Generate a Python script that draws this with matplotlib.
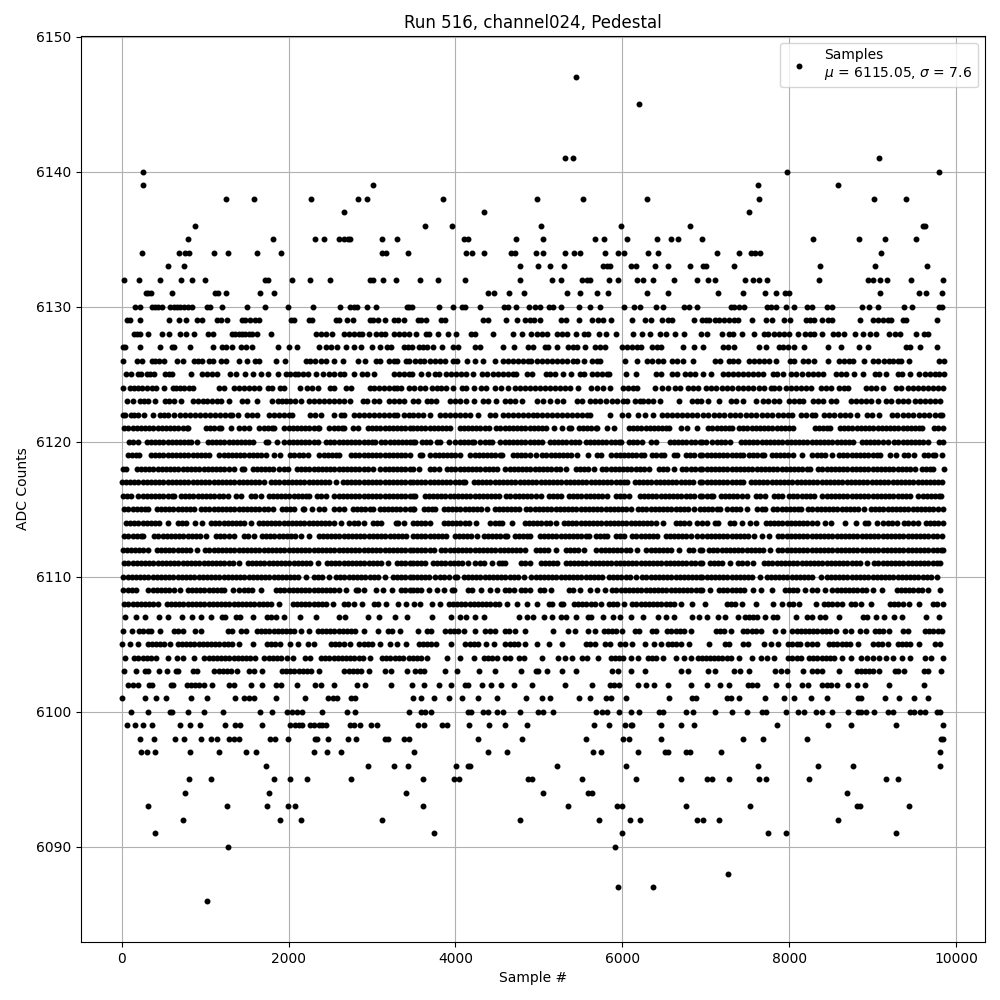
# Pedestal samples of one ADC channel.
import matplotlib
matplotlib.use("Agg")
import matplotlib.pyplot as plt

# Sample numbers at each ADC level.
s_6147 = [5448]
s_6145 = [6204]
s_6141 = [5316, 5412, 9076]
s_6140 = [252, 7972, 9796]
s_6139 = [252, 3012, 7624, 8584]
s_6138 = [1248, 1584, 2268, 2832, 2940, 3852, 4980, 5532, 6300, 7636, 9016, 9400]
s_6137 = [2664, 4344, 7516]
s_6136 = [876, 3636, 3960, 5028, 5988, 6816, 9604, 9628]
s_6135 = [792, 1812, 2316, 2424, 2604, 2664, 2712, 2736, 3120, 3300, 4104, 4152, 4728, 5052, 5676, 5784, 6060, 6420, 6588, 6672, 6952, 8284, 8836, 9148, 9520]
s_6134 = [240, 684, 756, 804, 1104, 1272, 1620, 1908, 3120, 3168, 3432, 4128, 4200, 4344, 4668, 4716, 4968, 5044, 5316, 5424, 5496, 5796, 5952, 6024, 6312, 6432, 7132, 7396, 7544, 7596, 7652, 9100]
s_6133 = [552, 744, 4776, 4992, 5136, 5304, 5772, 5820, 5852, 6108, 6168, 6396, 6552, 6816, 6972, 7004, 7336, 8368, 9028, 9652]
s_6132 = [24, 204, 456, 708, 840, 996, 1716, 1748, 2036, 2256, 2496, 2976, 3012, 3132, 3288, 3576, 3792, 4116, 4776, 5160, 5268, 5520, 5572, 5612, 5844, 5952, 6180, 6252, 6372, 6624, 6900, 7024, 7108, 7468, 7564, 7636, 7732, 8356, 8944, 9004, 9088, 9172, 9460, 9844]
s_6131 = [288, 316, 348, 600, 1116, 1152, 1248, 1656, 1824, 4392, 4464, 4644, 4824, 5340, 5496, 5700, 5832, 6300, 6552, 7144, 7444, 7708, 7840, 7948, 7996, 9088, 9556, 9640, 9832]
s_6130 = [156, 216, 360, 396, 432, 480, 576, 624, 664, 696, 744, 792, 844, 1020, 1056, 1200, 1500, 1716, 1992, 2292, 2616, 2736, 2784, 2816, 2940, 3052, 3420, 3444, 3480, 3804, 3972, 4080, 4116, 4296, 4584, 4632, 4728, 4884, 4952, 5012, 5124, 5172, 5268, 5484, 5616, 5736, 6024, 6144, 6212, 6408, 6492, 6744, 6804, 6900, 7304, 7344, 7404, 7464, 7732, 7784, 7844, 7960, 8056, 8212, 8276, 8452, 8516, 8872, 8956, 9064, 9376, 9472, 9796, 9832]
s_6129 = [64, 96, 216, 564, 684, 768, 900, 964, 1140, 1188, 1260, 1440, 1476, 1536, 1596, 1644, 2028, 2064, 2244, 2276, 2568, 2604, 2700, 2772, 2976, 3012, 3068, 3156, 3264, 3312, 3384, 3552, 3592, 3648, 3828, 3876, 4332, 4392, 4608, 4740, 4836, 4892, 4944, 5012, 5268, 5328, 5484, 5640, 5712, 5764, 5868, 6120, 6276, 6348, 6480, 6552, 6600, 6864, 6952, 7004, 7044, 7116, 7164, 7224, 7284, 7344, 7384, 7552, 7724, 7792, 7936, 8008, 8204, 8252, 8304, 8392, 8464, 8512, 8848, 9004, 9064, 9124, 9184, 9220, 9364, 9400, 9772]
s_6128 = [144, 184, 224, 312, 480, 564, 696, 768, 864, 1032, 1096, 1320, 1360, 1400, 1440, 1480, 1520, 1560, 1624, 1788, 2328, 2384, 2444, 2524, 2664, 2724, 2784, 2844, 2884, 2964, 3048, 3104, 3156, 3264, 3324, 3384, 3444, 3528, 3644, 3684, 3792, 3912, 4012, 4188, 4236, 4452, 4692, 4800, 4912, 4972, 5032, 5092, 5212, 5272, 5332, 5440, 5544, 5592, 5724, 5808, 5928, 6132, 6240, 6336, 6452, 6520, 6636, 6736, 6944, 7016, 7192, 7284, 7324, 7432, 7580, 7696, 7744, 7816, 7876, 7936, 7996, 8104, 8188, 8252, 8304, 8392, 8524, 8584, 8664, 8788, 8884, 8968, 9040, 9196, 9268, 9328, 9520, 9616, 9664]
s_6127 = [12, 44, 216, 456, 600, 632, 816, 1092, 1200, 1248, 1320, 1428, 1488, 1560, 1872, 2004, 2100, 2364, 2448, 2504, 2576, 2688, 2784, 2868, 3000, 3096, 3180, 3232, 3384, 3432, 3480, 3564, 3612, 3660, 3732, 3840, 3972, 4032, 4236, 4292, 4572, 4704, 4872, 4932, 5072, 5112, 5220, 5352, 5412, 5452, 5556, 5672, 5732, 5792, 5992, 6052, 6120, 6172, 6220, 6360, 6412, 6468, 6732, 6864, 6964, 7204, 7264, 7344, 7636, 7724, 7876, 7924, 7984, 8064, 8176, 8472, 8620, 8836, 8944, 9400, 9452, 9568, 9772]
s_6126 = [12, 180, 244, 360, 404, 444, 512, 660, 732, 864, 912, 964, 1044, 1092, 1188, 1248, 1404, 1500, 1596, 1644, 1848, 1956, 2208, 2256, 2316, 2384, 2444, 2544, 2652, 2832, 2912, 3044, 3096, 3204, 3264, 3304, 3408, 3444, 3512, 3572, 3620, 3692, 3752, 3812, 3872, 3972, 4020, 4140, 4236, 4332, 4476, 4572, 4632, 4692, 4752, 4812, 4872, 4912, 4972, 5032, 5092, 5152, 5212, 5272, 5332, 5412, 5452, 5544, 5632, 5692, 5732, 6036, 6180, 6292, 6352, 6432, 6492, 6592, 6652, 6732, 6852, 7116, 7172, 7276, 7324, 7384, 7524, 7584, 7644, 7704, 7764, 7844, 8008, 8056, 8164, 8224, 8296, 8464, 8596, 8656, 8716, 8764, 8896, 9004, 9064, 9132, 9192, 9244, 9304, 9344, 9436, 9796, 9852]
s_6125 = [48, 112, 192, 232, 304, 344, 384, 516, 564, 604, 828, 964, 1024, 1084, 1144, 1296, 1368, 1476, 1568, 1668, 1748, 1872, 1968, 2016, 2080, 2112, 2176, 2228, 2328, 2412, 2484, 2544, 2616, 2664, 2784, 2880, 2940, 3024, 3264, 3324, 3384, 3444, 3480, 3592, 3672, 3752, 3804, 3892, 3952, 4012, 4072, 4132, 4212, 4324, 4380, 4452, 4512, 4572, 4632, 4692, 4732, 4860, 4924, 5080, 5132, 5192, 5292, 5384, 5492, 5544, 5632, 5692, 5752, 5812, 5844, 6048, 6164, 6408, 6468, 6592, 6652, 6752, 6812, 6872, 6964, 7060, 7204, 7264, 7324, 7384, 7444, 7504, 7564, 7624, 7684, 7804, 7852, 7924, 8024, 8084, 8152, 8224, 8284, 8344, 8404, 8564, 8624, 8684, 8784, 8884, 9024, 9072, 9160, 9304, 9356, 9444, 9556, 9624, 9684, 9744, 9796, 9856]
s_6124 = [12, 96, 144, 192, 244, 304, 364, 408, 504, 612, 648, 704, 752, 804, 852, 1164, 1224, 1344, 1404, 1464, 1524, 1584, 1644, 1752, 1800, 1896, 1944, 2136, 2224, 2284, 2352, 2496, 2544, 2688, 2748, 2976, 3024, 3084, 3144, 3204, 3264, 3304, 3352, 3444, 3504, 3572, 3632, 3724, 3780, 3832, 3892, 3972, 4080, 4132, 4224, 4312, 4372, 4476, 4552, 4632, 4712, 4772, 4832, 4892, 4952, 5012, 5072, 5132, 5192, 5252, 5312, 5372, 5472, 5620, 5692, 5772, 5852, 6012, 6072, 6132, 6172, 6392, 6472, 6552, 6632, 6692, 6792, 6852, 6912, 7000, 7064, 7128, 7192, 7256, 7320, 7384, 7444, 7508, 7572, 7636, 7700, 7784, 7824, 7884, 7964, 8024, 8084, 8144, 8204, 8264, 8384, 8444, 8504, 8596, 8656, 8704, 8924, 8984, 9044, 9124, 9284, 9344, 9424, 9484, 9544, 9604, 9664, 9724, 9784, 9844]
s_6123 = [64, 132, 216, 264, 316, 404, 516, 564, 624, 708, 852, 912, 972, 1024, 1080, 1136, 1192, 1284, 1440, 1500, 1620, 1800, 1872, 1920, 1968, 2016, 2076, 2152, 2244, 2304, 2364, 2424, 2484, 2544, 2604, 2664, 2736, 2892, 2944, 3024, 3084, 3204, 3264, 3324, 3384, 3492, 3552, 3660, 3712, 3772, 3932, 3992, 4052, 4132, 4220, 4332, 4392, 4484, 4600, 4652, 4712, 4800, 4972, 5052, 5132, 5212, 5292, 5452, 5512, 5612, 5672, 5732, 5800, 5872, 5932, 6012, 6052, 6152, 6212, 6252, 6312, 6372, 6452, 6684, 6832, 6892, 6944, 7024, 7156, 7304, 7364, 7444, 7604, 7684, 7744, 7824, 7884, 8004, 8064, 8124, 8172, 8284, 8344, 8412, 8504, 8564, 8744, 8804, 8864, 8924, 8984, 9068, 9164, 9216, 9304, 9364, 9424, 9504, 9564, 9624, 9684, 9744, 9804]
s_6122 = [12, 44, 112, 144, 192, 264, 376, 456, 504, 552, 624, 696, 756, 816, 876, 936, 996, 1056, 1116, 1176, 1236, 1296, 1324, 1392, 1500, 1564, 1624, 1764, 1824, 1884, 1944, 2004, 2044, 2256, 2316, 2384, 2544, 2624, 2664, 2784, 2844, 2904, 2964, 3024, 3084, 3144, 3204, 3264, 3304, 3384, 3444, 3492, 3552, 3612, 3700, 3812, 3872, 3932, 3992, 4052, 4112, 4172, 4272, 4412, 4472, 4572, 4632, 4692, 4752, 4812, 4872, 4932, 4972, 5032, 5092, 5152, 5212, 5272, 5332, 5392, 5452, 5512, 5572, 5612, 5852, 5992, 6072, 6192, 6272, 6372, 6472, 6532, 6592, 6652, 6712, 6772, 6832, 6892, 6966, 7030, 7094, 7158, 7222, 7286, 7350, 7414, 7478, 7542, 7606, 7670, 7734, 7798, 7862, 7926, 7990, 8034, 8142, 8206, 8270, 8314, 8414, 8478, 8542, 8606, 8670, 8734, 8814, 8934, 8998, 9074, 9234, 9298, 9362, 9426, 9490, 9554, 9618, 9682, 9746, 9810, 9836]
s_6121 = [30, 80, 130, 180, 230, 280, 330, 380, 430, 480, 530, 580, 630, 680, 730, 780, 800, 1010, 1060, 1110, 1160, 1190, 1304, 1410, 1460, 1520, 1650, 1700, 1750, 1800, 1830, 1950, 2000, 2050, 2100, 2150, 2200, 2250, 2300, 2350, 2370, 2490, 2540, 2590, 2640, 2670, 2770, 2830, 2950, 3000, 3050, 3100, 3150, 3200, 3250, 3300, 3350, 3400, 3450, 3490, 3540, 3590, 3640, 3690, 3740, 3790, 3840, 3890, 3940, 4050, 4100, 4150, 4200, 4250, 4300, 4350, 4400, 4490, 4540, 4590, 4640, 4690, 4740, 4790, 4840, 4890, 4940, 4990, 5040, 5080, 5180, 5272, 5360, 5380, 5480, 5530, 5580, 5630, 5680, 5700, 5812, 5900, 6080, 6130, 6180, 6230, 6280, 6330, 6380, 6430, 6480, 6530, 6560, 6700, 6780, 6900, 7030, 7080, 7130, 7180, 7230, 7280, 7310, 7400, 7450, 7500, 7550, 7600, 7650, 7700, 7750, 7800, 7850, 7900, 7950, 8000, 8050, 8310, 8360, 8410, 8460, 8490, 8610, 8660, 8710, 8760, 8810, 8860, 8910, 8960, 9010, 9060, 9110, 9160, 9210, 9260, 9310, 9360, 9410, 9460, 9510, 9560, 9590, 9740, 9790, 9840]
s_6120 = [90, 140, 190, 300, 350, 400, 450, 500, 550, 600, 650, 700, 750, 800, 830, 904, 1030, 1080, 1130, 1180, 1230, 1280, 1330, 1380, 1430, 1480, 1530, 1570, 1730, 1750, 1856, 1950, 2000, 2050, 2100, 2150, 2200, 2250, 2300, 2350, 2450, 2500, 2550, 2600, 2650, 2700, 2750, 2800, 2850, 2900, 2950, 3000, 3030, 3110, 3160, 3210, 3260, 3310, 3360, 3410, 3460, 3490, 3520, 3600, 3650, 3700, 3780, 3820, 3924, 4000, 4050, 4100, 4150, 4200, 4220, 4300, 4350, 4400, 4440, 4540, 4590, 4640, 4690, 4740, 4790, 4840, 4890, 4940, 4990, 5040, 5130, 5180, 5230, 5280, 5330, 5380, 5430, 5480, 5560, 5610, 5660, 5710, 5760, 5810, 5860, 5910, 5960, 5980, 6080, 6130, 6180, 6240, 6340, 6400, 6570, 6620, 6670, 6720, 6770, 6820, 6870, 6930, 6960, 7000, 7080, 7130, 7180, 7230, 7290, 7420, 7470, 7520, 7570, 7620, 7670, 7720, 7770, 7820, 7870, 7920, 7970, 8020, 8070, 8120, 8170, 8220, 8270, 8320, 8370, 8420, 8470, 8520, 8570, 8620, 8670, 8720, 8770, 8870, 8920, 8970, 9020, 9070, 9120, 9180, 9260, 9310, 9360, 9410, 9460, 9510, 9560, 9600, 9664, 9800, 9850]
s_6119 = [70, 120, 170, 210, 350, 400, 450, 500, 550, 600, 650, 700, 750, 800, 850, 900, 950, 1000, 1050, 1170, 1220, 1270, 1320, 1370, 1420, 1470, 1520, 1570, 1620, 1670, 1730, 1830, 1900, 2020, 2070, 2120, 2170, 2230, 2370, 2420, 2470, 2520, 2570, 2610, 2750, 2800, 2850, 2900, 2950, 3000, 3050, 3100, 3150, 3200, 3250, 3300, 3350, 3400, 3460, 3580, 3600, 3700, 3750, 3800, 3850, 3900, 3950, 4000, 4060, 4180, 4230, 4280, 4330, 4380, 4430, 4480, 4530, 4560, 4690, 4740, 4790, 4840, 4890, 4960, 5040, 5090, 5140, 5190, 5240, 5290, 5340, 5390, 5460, 5592, 5700, 5740, 5870, 5920, 5970, 6020, 6070, 6120, 6170, 6220, 6260, 6360, 6410, 6460, 6500, 6620, 6660, 6760, 6810, 6860, 6930, 6960, 7010, 7060, 7110, 7160, 7210, 7260, 7310, 7360, 7410, 7450, 7520, 7570, 7620, 7670, 7700, 7790, 7840, 7890, 7940, 7990, 8050, 8150, 8280, 8330, 8380, 8430, 8510, 8600, 8650, 8700, 8750, 8800, 8850, 8900, 8950, 9000, 9050, 9090, 9204, 9276, 9380, 9430, 9500, 9620, 9670, 9720, 9750, 9832]
s_6118 = [10, 50, 180, 230, 280, 330, 380, 430, 480, 530, 580, 630, 680, 730, 780, 830, 880, 930, 980, 1030, 1080, 1130, 1180, 1230, 1280, 1350, 1440, 1470, 1570, 1620, 1670, 1720, 1770, 1810, 1890, 1940, 1990, 2100, 2150, 2200, 2250, 2300, 2350, 2400, 2450, 2500, 2550, 2600, 2650, 2700, 2750, 2800, 2850, 2900, 2950, 3010, 3100, 3150, 3200, 3250, 3300, 3350, 3400, 3460, 3490, 3560, 3690, 3740, 3800, 3900, 3950, 4000, 4050, 4100, 4150, 4200, 4250, 4300, 4350, 4400, 4450, 4500, 4600, 4650, 4700, 4750, 4800, 4850, 4900, 4950, 5000, 5050, 5100, 5150, 5200, 5250, 5320, 5440, 5490, 5540, 5590, 5660, 5760, 5810, 5860, 5910, 5960, 6010, 6060, 6110, 6160, 6210, 6260, 6320, 6440, 6490, 6540, 6620, 6720, 6770, 6820, 6870, 6930, 6960, 7010, 7060, 7110, 7160, 7210, 7260, 7310, 7360, 7410, 7460, 7510, 7560, 7610, 7660, 7710, 7760, 7810, 7860, 7910, 7960, 8010, 8060, 8110, 8160, 8210, 8250, 8350, 8400, 8450, 8500, 8550, 8600, 8650, 8700, 8750, 8800, 8850, 8900, 8950, 9000, 9050, 9100, 9150, 9200, 9250, 9300, 9350, 9400, 9450, 9510, 9590, 9640, 9690, 9730, 9852]
s_6117 = [4, 50, 100, 150, 200, 250, 300, 350, 400, 450, 500, 550, 600, 650, 700, 750, 800, 850, 900, 950, 1000, 1050, 1100, 1150, 1200, 1250, 1300, 1350, 1400, 1450, 1500, 1550, 1600, 1650, 1710, 1790, 1840, 1890, 1940, 1990, 2040, 2090, 2140, 2190, 2240, 2290, 2340, 2390, 2440, 2490, 2570, 2650, 2700, 2750, 2800, 2850, 2900, 2950, 3000, 3050, 3100, 3150, 3200, 3250, 3300, 3350, 3400, 3460, 3490, 3540, 3590, 3640, 3690, 3740, 3790, 3840, 3890, 3940, 3990, 4040, 4090, 4120, 4220, 4270, 4320, 4370, 4420, 4470, 4520, 4570, 4620, 4670, 4720, 4770, 4820, 4870, 4920, 4970, 5020, 5070, 5120, 5170, 5220, 5270, 5320, 5370, 5420, 5470, 5520, 5570, 5620, 5670, 5720, 5770, 5820, 5870, 5920, 5970, 6020, 6060, 6150, 6200, 6250, 6300, 6350, 6400, 6450, 6500, 6550, 6600, 6650, 6700, 6750, 6800, 6850, 6930, 6960, 7010, 7060, 7110, 7160, 7210, 7260, 7310, 7360, 7410, 7450, 7540, 7590, 7640, 7690, 7740, 7790, 7840, 7890, 7940, 7990, 8040, 8090, 8140, 8190, 8240, 8290, 8340, 8390, 8440, 8490, 8540, 8590, 8640, 8690, 8740, 8790, 8840, 8890, 8940, 8990, 9040, 9090, 9140, 9190, 9240, 9290, 9340, 9390, 9440, 9490, 9540, 9590, 9640, 9690, 9740, 9790, 9830]
s_6116 = [10, 60, 110, 200, 250, 300, 350, 400, 450, 500, 550, 600, 630, 710, 760, 810, 860, 910, 960, 1010, 1060, 1110, 1160, 1210, 1270, 1370, 1430, 1550, 1600, 1670, 1760, 1810, 1860, 1910, 1960, 2010, 2060, 2110, 2160, 2210, 2250, 2340, 2390, 2450, 2550, 2600, 2650, 2700, 2750, 2800, 2850, 2900, 2950, 3000, 3050, 3100, 3150, 3200, 3250, 3300, 3350, 3400, 3460, 3490, 3520, 3630, 3680, 3730, 3780, 3830, 3880, 3930, 3980, 4030, 4080, 4130, 4180, 4230, 4280, 4330, 4380, 4430, 4480, 4520, 4610, 4660, 4710, 4760, 4810, 4860, 4910, 4960, 5020, 5120, 5170, 5220, 5260, 5360, 5410, 5460, 5510, 5560, 5610, 5660, 5710, 5760, 5820, 5920, 5970, 6020, 6080, 6210, 6260, 6310, 6360, 6410, 6460, 6510, 6560, 6610, 6660, 6710, 6760, 6810, 6860, 6930, 6960, 7010, 7060, 7090, 7180, 7230, 7280, 7330, 7380, 7430, 7490, 7600, 7650, 7710, 7820, 7870, 7910, 8000, 8050, 8100, 8150, 8200, 8250, 8300, 8400, 8450, 8500, 8550, 8600, 8650, 8700, 8750, 8800, 8850, 8900, 8950, 9000, 9050, 9100, 9150, 9200, 9250, 9300, 9350, 9400, 9450, 9550, 9600, 9650, 9700, 9750, 9800, 9820]
s_6115 = [30, 80, 130, 180, 230, 280, 310, 420, 470, 520, 570, 620, 670, 720, 770, 820, 870, 950, 1000, 1050, 1100, 1150, 1200, 1250, 1300, 1350, 1400, 1450, 1500, 1550, 1600, 1650, 1700, 1750, 1810, 1920, 1970, 2020, 2070, 2170, 2190, 2276, 2370, 2430, 2550, 2600, 2670, 2770, 2820, 2870, 2920, 2970, 3010, 3090, 3140, 3190, 3240, 3290, 3340, 3390, 3460, 3490, 3500, 3620, 3670, 3720, 3760, 3860, 3910, 3960, 4010, 4060, 4110, 4160, 4210, 4260, 4310, 4380, 4470, 4520, 4570, 4620, 4670, 4720, 4760, 4850, 4900, 4950, 5000, 5050, 5100, 5150, 5200, 5250, 5300, 5350, 5400, 5450, 5500, 5550, 5600, 5650, 5700, 5750, 5800, 5850, 5900, 5950, 6000, 6050, 6100, 6190, 6240, 6290, 6340, 6390, 6440, 6490, 6540, 6590, 6640, 6690, 6740, 6790, 6860, 6930, 6980, 7030, 7080, 7130, 7170, 7260, 7310, 7360, 7410, 7490, 7620, 7670, 7710, 7810, 7860, 7910, 7960, 8010, 8060, 8110, 8140, 8230, 8280, 8330, 8380, 8430, 8480, 8530, 8580, 8630, 8680, 8730, 8780, 8830, 8900, 8980, 9030, 9080, 9130, 9180, 9230, 9280, 9330, 9380, 9430, 9480, 9530, 9580, 9630, 9680, 9730, 9780, 9840]
s_6114 = [50, 100, 150, 200, 250, 300, 350, 400, 450, 552, 670, 720, 770, 880, 960, 1070, 1120, 1170, 1220, 1270, 1320, 1370, 1420, 1470, 1550, 1640, 1690, 1740, 1790, 1840, 1890, 1940, 1990, 2040, 2090, 2140, 2190, 2240, 2290, 2340, 2390, 2440, 2490, 2540, 2630, 2730, 2780, 2830, 2910, 3010, 3060, 3110, 3290, 3310, 3384, 3490, 3540, 3590, 3640, 3700, 3860, 3910, 3960, 4010, 4060, 4110, 4160, 4250, 4420, 4470, 4520, 4560, 4680, 4830, 4880, 4930, 4980, 5030, 5080, 5130, 5200, 5300, 5350, 5400, 5450, 5500, 5550, 5600, 5650, 5700, 5750, 5800, 5850, 5900, 5950, 6000, 6050, 6100, 6150, 6200, 6250, 6300, 6350, 6400, 6490, 6640, 6690, 6740, 6800, 6900, 6960, 7010, 7110, 7150, 7290, 7340, 7430, 7528, 7600, 7720, 7770, 7820, 7870, 7920, 7970, 8020, 8070, 8120, 8170, 8220, 8270, 8330, 8430, 8500, 8672, 8800, 8910, 8950, 9052, 9130, 9180, 9230, 9290, 9380, 9430, 9480, 9550, 9640, 9690, 9740, 9790, 9840]
s_6113 = [30, 80, 130, 180, 230, 260, 390, 440, 490, 540, 590, 640, 690, 740, 790, 840, 890, 940, 1010, 1130, 1180, 1230, 1280, 1340, 1460, 1510, 1580, 1680, 1730, 1780, 1830, 1880, 1930, 1980, 2030, 2080, 2150, 2250, 2360, 2410, 2460, 2510, 2560, 2610, 2660, 2710, 2760, 2810, 2860, 2910, 2960, 3010, 3060, 3110, 3160, 3210, 3260, 3310, 3360, 3410, 3490, 3540, 3590, 3640, 3690, 3740, 3790, 3840, 3890, 3990, 4040, 4090, 4140, 4190, 4260, 4340, 4390, 4440, 4490, 4540, 4590, 4620, 4710, 4760, 4810, 4860, 4900, 5010, 5060, 5110, 5160, 5210, 5260, 5310, 5360, 5410, 5460, 5510, 5560, 5600, 5680, 5730, 5780, 5820, 5920, 5970, 6020, 6120, 6170, 6220, 6270, 6320, 6370, 6420, 6520, 6570, 6620, 6670, 6720, 6770, 6820, 6900, 6960, 7010, 7060, 7110, 7160, 7210, 7260, 7310, 7360, 7410, 7460, 7510, 7580, 7680, 7760, 7870, 7920, 7970, 8020, 8070, 8120, 8170, 8220, 8270, 8320, 8370, 8420, 8470, 8520, 8570, 8620, 8670, 8720, 8770, 8820, 8870, 8920, 8970, 9020, 9070, 9120, 9170, 9220, 9270, 9320, 9370, 9420, 9470, 9520, 9570, 9620, 9670, 9720, 9770, 9830]
s_6112 = [10, 60, 110, 160, 210, 260, 310, 420, 470, 520, 570, 620, 670, 720, 770, 820, 900, 1000, 1050, 1100, 1150, 1200, 1250, 1300, 1350, 1400, 1450, 1500, 1550, 1600, 1650, 1700, 1750, 1800, 1850, 1900, 1950, 2000, 2050, 2100, 2150, 2200, 2250, 2300, 2350, 2400, 2450, 2500, 2550, 2600, 2650, 2700, 2750, 2800, 2850, 2900, 2950, 3000, 3050, 3100, 3150, 3200, 3250, 3300, 3350, 3400, 3460, 3490, 3540, 3590, 3640, 3690, 3740, 3830, 3880, 3930, 3980, 4030, 4080, 4130, 4180, 4230, 4280, 4330, 4380, 4430, 4480, 4530, 4580, 4630, 4680, 4730, 4780, 4830, 4960, 5010, 5060, 5110, 5200, 5320, 5370, 5420, 5470, 5540, 5690, 5740, 5790, 5840, 5890, 5940, 5990, 6040, 6090, 6180, 6290, 6340, 6390, 6440, 6490, 6540, 6590, 6680, 6800, 6850, 6930, 6960, 7040, 7090, 7140, 7190, 7240, 7290, 7340, 7390, 7440, 7490, 7540, 7590, 7640, 7690, 7770, 7870, 7920, 7970, 8020, 8070, 8120, 8170, 8220, 8270, 8320, 8370, 8420, 8470, 8520, 8570, 8620, 8670, 8720, 8770, 8820, 8870, 8920, 8970, 9020, 9070, 9120, 9170, 9220, 9270, 9320, 9370, 9420, 9470, 9520, 9570, 9620, 9670, 9720, 9770, 9820, 9850]
s_6111 = [30, 80, 130, 180, 230, 280, 330, 380, 430, 480, 530, 580, 630, 680, 730, 780, 830, 880, 930, 980, 1030, 1080, 1130, 1180, 1230, 1280, 1330, 1410, 1510, 1560, 1610, 1660, 1710, 1760, 1810, 1860, 1910, 1960, 2010, 2060, 2110, 2160, 2210, 2260, 2350, 2460, 2510, 2560, 2610, 2660, 2710, 2760, 2810, 2860, 2910, 2960, 3010, 3060, 3110, 3190, 3300, 3350, 3400, 3460, 3490, 3540, 3590, 3640, 3730, 3780, 3830, 3880, 3930, 3980, 4030, 4080, 4150, 4240, 4290, 4340, 4440, 4520, 4560, 4600, 4790, 4840, 4890, 5020, 5070, 5120, 5170, 5220, 5320, 5370, 5420, 5470, 5520, 5570, 5620, 5670, 5720, 5770, 5820, 5870, 5920, 5970, 6020, 6070, 6120, 6170, 6220, 6270, 6320, 6370, 6420, 6470, 6520, 6570, 6620, 6670, 6720, 6770, 6820, 6870, 6930, 6950, 7050, 7100, 7150, 7200, 7290, 7390, 7440, 7490, 7570, 7700, 7750, 7800, 7850, 7900, 7950, 8000, 8050, 8100, 8150, 8200, 8250, 8300, 8350, 8400, 8450, 8500, 8550, 8600, 8650, 8700, 8750, 8800, 8850, 8930, 9020, 9070, 9120, 9170, 9220, 9270, 9320, 9370, 9420, 9470, 9520, 9570, 9620, 9670, 9720, 9770, 9810]
s_6110 = [20, 70, 120, 170, 220, 270, 320, 370, 420, 470, 520, 570, 620, 670, 720, 770, 820, 870, 920, 970, 1020, 1070, 1120, 1170, 1220, 1270, 1320, 1370, 1420, 1470, 1520, 1570, 1620, 1670, 1720, 1770, 1820, 1870, 1920, 1970, 2020, 2070, 2110, 2212, 2300, 2350, 2400, 2490, 2570, 2620, 2670, 2720, 2770, 2820, 2870, 2920, 2970, 3020, 3070, 3150, 3250, 3300, 3350, 3400, 3460, 3490, 3540, 3590, 3640, 3680, 3760, 3810, 3860, 3920, 4000, 4020, 4100, 4150, 4200, 4250, 4300, 4350, 4400, 4450, 4500, 4550, 4600, 4650, 4700, 4750, 4820, 4910, 4960, 5010, 5060, 5110, 5160, 5210, 5260, 5310, 5360, 5410, 5460, 5510, 5560, 5610, 5660, 5710, 5760, 5840, 5890, 5940, 5990, 6040, 6090, 6160, 6240, 6290, 6340, 6390, 6440, 6490, 6540, 6590, 6640, 6690, 6740, 6790, 6840, 6890, 6930, 6960, 7010, 7060, 7110, 7160, 7210, 7260, 7310, 7360, 7410, 7460, 7510, 7560, 7650, 7730, 7780, 7830, 7880, 7930, 7980, 8030, 8080, 8130, 8180, 8230, 8280, 8380, 8450, 8500, 8550, 8600, 8650, 8700, 8750, 8800, 8850, 8900, 8950, 9000, 9050, 9100, 9150, 9200, 9250, 9300, 9350, 9400, 9450, 9500, 9550, 9600, 9650, 9700, 9770]
s_6109 = [20, 70, 120, 170, 320, 370, 420, 470, 520, 570, 630, 696, 790, 840, 890, 940, 990, 1040, 1090, 1140, 1190, 1230, 1330, 1410, 1460, 1510, 1560, 1670, 1850, 1900, 1950, 2000, 2050, 2100, 2150, 2200, 2250, 2300, 2350, 2400, 2450, 2500, 2550, 2600, 2690, 2810, 2830, 2904, 3050, 3130, 3244, 3350, 3400, 3460, 3490, 3540, 3590, 3680, 3780, 3860, 3960, 3980, 4150, 4200, 4312, 4410, 4500, 4590, 4640, 4700, 4790, 4840, 4900, 5010, 5060, 5150, 5360, 5410, 5490, 5610, 5700, 5792, 5880, 5930, 5980, 6030, 6080, 6130, 6180, 6230, 6280, 6330, 6380, 6430, 6480, 6530, 6580, 6630, 6680, 6730, 6780, 6830, 6880, 6930, 6960, 7050, 7160, 7210, 7260, 7310, 7360, 7410, 7460, 7570, 7660, 7790, 7950, 8000, 8050, 8100, 8190, 8280, 8330, 8430, 8520, 8570, 8620, 8670, 8720, 8770, 8820, 8870, 8920, 9010, 9112, 9290, 9340, 9390, 9440, 9490, 9540, 9590, 9670, 9804]
s_6108 = [30, 80, 130, 180, 230, 280, 330, 380, 430, 540, 590, 640, 690, 740, 790, 840, 890, 940, 990, 1040, 1090, 1140, 1190, 1240, 1290, 1340, 1390, 1440, 1490, 1540, 1590, 1640, 1690, 1740, 1790, 1890, 2050, 2100, 2150, 2200, 2250, 2300, 2350, 2400, 2450, 2530, 2660, 2710, 2790, 2884, 3020, 3070, 3170, 3312, 3404, 3500, 3580, 3720, 3820, 3920, 3970, 4020, 4070, 4120, 4170, 4220, 4270, 4320, 4370, 4420, 4470, 4520, 4620, 4740, 4860, 4980, 5120, 5160, 5260, 5290, 5420, 5470, 5520, 5570, 5620, 5670, 5740, 5840, 5890, 5940, 6020, 6120, 6170, 6220, 6270, 6320, 6370, 6420, 6470, 6520, 6570, 6620, 6700, 6840, 6990, 7250, 7300, 7350, 7430, 7600, 7810, 7910, 8000, 8050, 8120, 8320, 8420, 8470, 8520, 8570, 8640, 8740, 8790, 8860, 8980, 9210, 9260, 9310, 9360, 9440, 9560, 9720, 9770, 9840]
s_6107 = [40, 170, 276, 450, 552, 720, 840, 950, 1068, 1200, 1240, 1370, 1420, 1572, 1740, 1790, 1850, 1944, 2140, 2330, 2610, 2680, 2952, 3080, 3276, 3424, 3720, 3950, 4056, 4128, 4236, 4344, 4760, 4860, 4932, 5064, 5152, 5270, 5320, 5448, 5590, 5620, 5772, 5884, 5972, 6100, 6250, 6430, 6528, 6624, 6840, 6916, 7012, 7150, 7230, 7384, 7470, 7520, 7570, 7620, 7710, 7810, 7850, 8080, 8210, 8280, 8368, 8428, 8600, 8890, 8930, 9040, 9136, 9256, 9350, 9640, 9800]
s_6106 = [20, 124, 210, 260, 310, 350, 464, 630, 680, 730, 880, 950, 1270, 1320, 1430, 1490, 1620, 1670, 1720, 1770, 1820, 1870, 1920, 1970, 2020, 2070, 2150, 2248, 2350, 2400, 2450, 2500, 2550, 2600, 2650, 2700, 2750, 2800, 2900, 3072, 3190, 3240, 3336, 3552, 3660, 3710, 3880, 3930, 3980, 4030, 4100, 4236, 4360, 4420, 4470, 4590, 4640, 4716, 4840, 5172, 5350, 5436, 5590, 5676, 5780, 5830, 5880, 5930, 6000, 6150, 6200, 6360, 6410, 6540, 6590, 6640, 6690, 6740, 6820, 7120, 7170, 7220, 7300, 7450, 7500, 7550, 7600, 7660, 7832, 7930, 8040, 8090, 8140, 8190, 8240, 8290, 8340, 8390, 8440, 8490, 8560, 8670, 8740, 8850, 8920, 9030, 9080, 9130, 9200, 9370, 9420, 9630, 9680, 9730, 9780, 9830]
s_6105 = [4, 96, 190, 310, 360, 410, 460, 510, 580, 670, 720, 770, 820, 870, 920, 970, 1020, 1070, 1120, 1170, 1220, 1270, 1320, 1400, 1568, 1740, 1790, 1840, 1900, 2020, 2110, 2230, 2300, 2510, 2560, 2610, 2660, 2740, 2850, 2900, 2950, 3000, 3100, 3216, 3304, 3408, 3560, 3610, 3660, 3710, 3770, 3950, 4120, 4170, 4220, 4270, 4370, 4460, 4600, 4650, 4700, 4750, 4830, 4980, 5124, 5280, 5560, 5610, 5670, 5790, 5850, 5970, 6030, 6120, 6276, 6384, 6460, 6550, 6600, 6650, 6700, 6800, 7040, 7230, 7280, 7450, 7510, 7700, 7780, 7864, 7990, 8040, 8090, 8130, 8220, 8270, 8330, 8480, 8530, 8580, 8630, 8680, 8730, 8830, 9010, 9060, 9110, 9180, 9300, 9350, 9400, 9450, 9556, 9750, 9810]
s_6104 = [40, 150, 200, 250, 300, 350, 410, 550, 660, 730, 872, 990, 1040, 1090, 1140, 1190, 1240, 1290, 1340, 1390, 1440, 1490, 1540, 1600, 1710, 1760, 1810, 1860, 1910, 1980, 2056, 2200, 2260, 2390, 2440, 2490, 2540, 2590, 2640, 2690, 2740, 2790, 2840, 2890, 2980, 3120, 3170, 3220, 3270, 3320, 3370, 3440, 3490, 3540, 3590, 3660, 3900, 4060, 4220, 4340, 4390, 4440, 4500, 4596, 4652, 4760, 4820, 5040, 5232, 5316, 5400, 5520, 5580, 5712, 5860, 5910, 5960, 6010, 6100, 6192, 6310, 6360, 6410, 6490, 6648, 6740, 6824, 6912, 6950, 7000, 7050, 7100, 7150, 7200, 7250, 7300, 7400, 7550, 7660, 7740, 7816, 7990, 8040, 8090, 8140, 8240, 8290, 8340, 8390, 8440, 8490, 8540, 8640, 8740, 8860, 8930, 9004, 9076, 9160, 9240, 9352, 9450, 9630, 9700, 9840]
s_6103 = [24, 176, 280, 320, 444, 540, 650, 670, 850, 900, 1110, 1160, 1210, 1260, 1310, 1380, 1530, 1580, 1680, 1920, 1970, 2020, 2070, 2120, 2170, 2220, 2270, 2360, 2670, 2720, 2770, 2820, 2870, 2960, 3156, 3224, 3416, 3520, 3570, 3620, 3880, 4020, 4280, 4480, 4784, 4960, 4990, 5092, 5280, 5448, 5880, 5950, 6100, 6276, 6710, 6792, 7024, 7116, 7340, 7410, 7516, 7828, 7900, 7972, 8164, 8280, 8340, 8400, 8596, 8810, 8860, 8910, 8960, 9010, 9080, 9270, 9300, 9376, 9620, 9670, 9820]
s_6102 = [80, 130, 200, 330, 360, 590, 620, 780, 830, 880, 930, 980, 1080, 1280, 1340, 1552, 1680, 1850, 1910, 2100, 2320, 2390, 2544, 2820, 2916, 3230, 3480, 3620, 3800, 3948, 4120, 4150, 4320, 4428, 4548, 4700, 4920, 5316, 5640, 5850, 5900, 5960, 6190, 6288, 6380, 6552, 6828, 7020, 7176, 7276, 7510, 7560, 7610, 7840, 7984, 8150, 8230, 8400, 8450, 8500, 8570, 8704, 8820, 8908, 9200, 9620]
s_6101 = [4, 280, 408, 528, 828, 1020, 1356, 1470, 1530, 1580, 1848, 2200, 2470, 2530, 2580, 2750, 2800, 3492, 3588, 3744, 3924, 4080, 4272, 4500, 4848, 5040, 5130, 5484, 5610, 5800, 5860, 6040, 6560, 6840, 6890, 7250, 7300, 7396, 7708, 7936, 8060, 8260, 8460, 8830, 8860, 9148, 9320, 9496, 9664]
s_6100 = [108, 310, 580, 600, 792, 984, 1210, 1660, 1800, 1980, 2040, 2100, 2160, 2400, 2700, 2796, 3444, 3588, 3636, 3708, 4152, 4192, 4332, 4392, 4500, 4572, 4776, 4992, 5052, 5172, 5688, 5752, 5820, 5964, 6108, 6204, 6444, 6492, 6768, 6852, 7108, 7312, 7492, 7680, 7720, 7960, 8104, 8184, 8320, 8400, 8520, 8704, 8824, 8864, 8920, 9016, 9184, 9244, 9452, 9496, 9568, 9628, 9776, 9808]
s_6099 = [60, 156, 252, 360, 696, 816, 936, 1236, 1356, 1416, 1680, 2016, 2072, 2120, 2160, 2256, 2310, 2368, 2400, 2448, 2736, 2784, 2856, 2988, 3060, 3552, 3620, 3840, 3900, 4164, 4404, 4596, 4860, 5664, 5844, 6032, 6100, 6120, 6468, 6708, 6864, 7852, 8464, 8740, 9280, 9844]
s_6098 = [216, 384, 636, 744, 948, 1068, 1140, 1284, 1344, 1404, 1776, 1836, 1992, 2312, 2336, 2472, 2712, 2808, 3152, 3192, 3384, 3444, 4272, 4800, 5568, 6012, 6084, 6468, 7444, 7684, 8212, 9820, 9844]
s_6097 = [228, 300, 396, 816, 1164, 1488, 1608, 2304, 2460, 2628, 3504, 4392, 4620, 5652, 5748, 6192, 6516, 6552, 6764, 6812, 7180, 9808]
s_6096 = [1728, 2952, 3264, 3432, 4008, 4152, 4180, 5220, 6048, 7624, 8344, 8764, 9808]
s_6095 = [804, 1068, 1824, 2016, 2220, 2748, 3612, 3984, 4044, 4872, 4920, 5520, 6168, 6708, 7012, 7072, 7276, 7636, 7720, 8236, 9160, 9304]
s_6094 = [756, 1764, 3408, 5052, 5592, 5640, 8692]
s_6093 = [312, 1260, 1740, 1992, 2076, 3612, 5352, 5940, 5992, 6768, 7528, 8812, 8848, 9436]
s_6092 = [732, 1896, 2148, 3120, 4776, 5724, 6096, 6216, 6900, 6964, 7156, 8584]
s_6091 = [396, 3744, 6000, 7744, 7960, 9280]
s_6090 = [1272, 5916]
s_6088 = [7264]
s_6087 = [5952, 6372]
s_6086 = [1020]

adc_levels = [6147, 6145, 6141, 6140, 6139, 6138, 6137, 6136, 6135, 6134, 6133, 6132, 6131, 6130, 6129, 6128,
              6127, 6126, 6125, 6124, 6123, 6122, 6121, 6120, 6119, 6118, 6117, 6116, 6115, 6114, 6113, 6112,
              6111, 6110, 6109, 6108, 6107, 6106, 6105, 6104, 6103, 6102, 6101, 6100, 6099, 6098, 6097, 6096,
              6095, 6094, 6093, 6092, 6091, 6090, 6088, 6087, 6086]
sample_rows = [s_6147, s_6145, s_6141, s_6140, s_6139, s_6138, s_6137, s_6136, s_6135, s_6134, s_6133, s_6132,
               s_6131, s_6130, s_6129, s_6128, s_6127, s_6126, s_6125, s_6124, s_6123, s_6122, s_6121, s_6120,
               s_6119, s_6118, s_6117, s_6116, s_6115, s_6114, s_6113, s_6112, s_6111, s_6110, s_6109, s_6108,
               s_6107, s_6106, s_6105, s_6104, s_6103, s_6102, s_6101, s_6100, s_6099, s_6098, s_6097, s_6096,
               s_6095, s_6094, s_6093, s_6092, s_6091, s_6090, s_6088, s_6087, s_6086]

x = []
y = []
for level, row in zip(adc_levels, sample_rows):
    x += row
    y += [level] * len(row)

fig, ax = plt.subplots(figsize=(10, 10), dpi=100)
ax.plot(x, y, "k.", markersize=6.5, label="Samples\n$\\mu$ = 6115.05, $\\sigma$ = 7.6")
ax.set_title("Run 516, channel024, Pedestal")
ax.set_xlabel("Sample #")
ax.set_ylabel("ADC Counts")
ax.legend(loc="upper right")
ax.grid()
fig.subplots_adjust(left=0.081, right=0.985, top=0.964, bottom=0.058)
fig.savefig("out.png")
